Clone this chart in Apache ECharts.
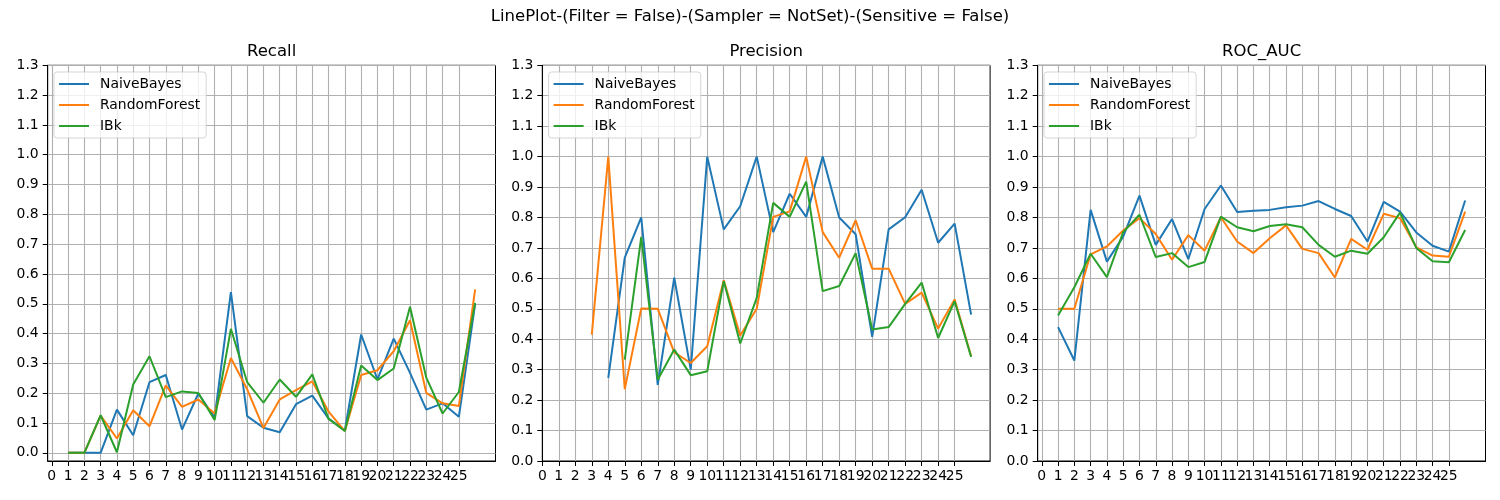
<!DOCTYPE html>
<html>
<head>
<meta charset="utf-8">
<script src="https://cdn.jsdelivr.net/npm/echarts@6/dist/echarts.min.js"></script>
<style>
  html, body { margin: 0; padding: 0; background: #fff; }
  #chart { width: 1500px; height: 500px; }
</style>
</head>
<body>
<div id="chart"></div>
<script>
// x positions of the runs and tick labels
const runs = [1, 2, 3, 4, 5, 6, 7, 8, 9, 10, 11, 12, 13, 14, 15, 16, 17, 18, 19, 20, 21, 22, 23, 24, 25, 26];
const xTicks = [0, 1, 2, 3, 4, 5, 6, 7, 8, 9, 10, 11, 12, 13, 14, 15, 16, 17, 18, 19, 20, 21, 22, 23, 24, 25];
const yTicks = [0, 0.1, 0.2, 0.3, 0.4, 0.5, 0.6, 0.7, 0.8, 0.9, 1.0, 1.1, 1.2, 1.3];

const models = ['NaiveBayes', 'RandomForest', 'IBk'];
const panels = ['Recall', 'Precision', 'ROC_AUC'];

// Recall
const recallNaiveBayes = [0, 0, 0, 0.145, 0.059, 0.237, 0.261, 0.078, 0.199, 0.118, 0.539, 0.123, 0.084, 0.069, 0.163, 0.192, 0.115, 0.075, 0.397, 0.246, 0.383, 0.268, 0.145, 0.166, 0.121, 0.5];
const recallRandomForest = [0, 0, 0.125, 0.048, 0.143, 0.089, 0.226, 0.154, 0.179, 0.132, 0.318, 0.213, 0.083, 0.179, 0.21, 0.24, 0.138, 0.073, 0.261, 0.277, 0.341, 0.445, 0.201, 0.166, 0.157, 0.548];
const recallIBk = [0, 0, 0.126, 0.002, 0.229, 0.324, 0.187, 0.206, 0.201, 0.11, 0.416, 0.237, 0.168, 0.246, 0.188, 0.263, 0.114, 0.073, 0.293, 0.244, 0.283, 0.49, 0.252, 0.132, 0.204, 0.503];

// Precision (null = undefined for that run)
const precisionNaiveBayes = [null, null, null, 0.273, 0.668, 0.8, 0.25, 0.602, 0.3, 1.0, 0.761, 0.837, 1.0, 0.752, 0.878, 0.802, 1.0, 0.8, 0.745, 0.408, 0.761, 0.801, 0.891, 0.717, 0.78, 0.481];
const precisionRandomForest = [null, null, 0.415, 1.0, 0.236, 0.501, 0.5, 0.357, 0.322, 0.377, 0.594, 0.412, 0.5, 0.802, 0.82, 1.0, 0.752, 0.668, 0.791, 0.632, 0.632, 0.516, 0.553, 0.435, 0.531, 0.344];
const precisionIBk = [null, null, null, null, 0.333, 0.736, 0.267, 0.366, 0.282, 0.295, 0.591, 0.386, 0.536, 0.848, 0.802, 0.918, 0.558, 0.575, 0.683, 0.432, 0.44, 0.516, 0.586, 0.404, 0.525, 0.342];

// ROC_AUC
const rocNaiveBayes = [0.44, 0.33, 0.825, 0.655, 0.737, 0.872, 0.71, 0.795, 0.663, 0.828, 0.905, 0.818, 0.822, 0.825, 0.834, 0.839, 0.854, 0.828, 0.805, 0.721, 0.851, 0.819, 0.751, 0.707, 0.688, 0.856];
const rocRandomForest = [0.5, 0.5, 0.679, 0.705, 0.757, 0.798, 0.746, 0.661, 0.742, 0.691, 0.801, 0.721, 0.683, 0.732, 0.774, 0.697, 0.683, 0.603, 0.73, 0.694, 0.812, 0.798, 0.702, 0.675, 0.671, 0.819];
const rocIBk = [0.478, 0.571, 0.681, 0.604, 0.752, 0.809, 0.67, 0.683, 0.637, 0.654, 0.803, 0.768, 0.755, 0.772, 0.778, 0.768, 0.71, 0.671, 0.691, 0.681, 0.735, 0.816, 0.7, 0.656, 0.653, 0.759];

const panelData = [
  [recallNaiveBayes, recallRandomForest, recallIBk],
  [precisionNaiveBayes, precisionRandomForest, precisionIBk],
  [rocNaiveBayes, rocRandomForest, rocIBk]
];

const colors = ['#1f77b4', '#ff7f0e', '#2ca02c'];
const font = 'DejaVu Sans';

// axes boxes, as in the matplotlib figure
const boxes = [
  { left: 47.7, xMin: -0.25, xMax: 27.25, yMin: -0.0274 },
  { left: 542.3, xMin: 0, xMax: 27.15, yMin: 0 },
  { left: 1037.7, xMin: -0.25, xMax: 27.25, yMin: 0 }
];
const boxTop = 65.3, boxHeight = 395.7, boxWidth = 447.8;

// two-digit labels touch each other, so even and odd labels go on two
// stacked axes -- otherwise echarts drops the overlapping end labels
const evenTicks = xTicks.filter(v => v % 2 === 0);
const oddTicks = xTicks.filter(v => v % 2 === 1);

const chart = echarts.init(document.getElementById('chart'), null, { renderer: 'canvas' });

const grid = [], xAxis = [], yAxis = [], series = [], legend = [];
const title = [{
  text: 'LinePlot-(Filter = False)-(Sampler = NotSet)-(Sensitive = False)',
  left: 'center', top: 8, padding: 0,
  textStyle: { fontFamily: font, fontSize: 16.5, fontWeight: 'normal', color: '#000' }
}];

const labelStyle = { fontFamily: font, fontSize: 13.9, color: '#000' };

boxes.forEach((b, i) => {
  grid.push({
    left: b.left, top: boxTop, width: boxWidth, height: boxHeight,
    show: true, borderColor: '#000', borderWidth: 1, backgroundColor: 'transparent'
  });
  // main x axis: ticks, grid lines, even labels
  xAxis.push({
    type: 'value', gridIndex: i, min: b.xMin, max: b.xMax, position: 'bottom',
    axisLine: { show: true, onZero: false, lineStyle: { color: '#000', width: 1 } },
    axisTick: { show: true, inside: false, length: 5, customValues: xTicks, lineStyle: { color: '#000' } },
    axisLabel: Object.assign({ customValues: evenTicks, margin: 8, hideOverlap: false }, labelStyle),
    splitLine: { show: true, lineStyle: { color: '#b0b0b0', width: 1.1 } }
  });
  // label-only x axis: odd labels
  xAxis.push({
    type: 'value', gridIndex: i, min: b.xMin, max: b.xMax, position: 'bottom', offset: 0,
    axisLine: { show: false },
    axisTick: { show: false },
    axisLabel: Object.assign({ customValues: oddTicks, margin: 8, hideOverlap: false }, labelStyle),
    splitLine: { show: false }
  });
  yAxis.push({
    type: 'value', gridIndex: i, min: b.yMin, max: 1.3,
    axisLine: { show: true, onZero: false, lineStyle: { color: '#000', width: 1 } },
    axisTick: { show: true, inside: false, length: 5, customValues: yTicks, lineStyle: { color: '#000' } },
    axisLabel: Object.assign({
      customValues: yTicks, margin: 9, hideOverlap: false,
      showMinLabel: true, showMaxLabel: true,
      formatter: v => v.toFixed(1)
    }, labelStyle),
    splitLine: { show: true, lineStyle: { color: '#b0b0b0', width: 1.1 } }
  });
  title.push({
    text: panels[i], left: b.left + boxWidth / 2, top: 43, padding: 0,
    textAlign: 'center',
    textStyle: { fontFamily: font, fontSize: 16.5, fontWeight: 'normal', color: '#000' }
  });
  legend.push({
    data: models, orient: 'vertical', left: b.left + 6.3, top: 72,
    padding: [5, 6, 5, 4], itemWidth: 30, itemHeight: 14, itemGap: 7,
    backgroundColor: 'rgba(255,255,255,0.8)', borderColor: 'rgba(204,204,204,0.8)',
    borderWidth: 1, borderRadius: 3, selectedMode: false,
    itemStyle: { opacity: 0 },
    textStyle: Object.assign({ padding: [0, 0, 0, 6] }, labelStyle)
  });
  models.forEach((m, k) => {
    series.push({
      name: m, type: 'line', xAxisIndex: i * 2, yAxisIndex: i,
      data: runs.map((x, j) => [x, panelData[i][k][j] === null ? '-' : panelData[i][k][j]]),
      symbol: 'none', connectNulls: false, clip: true,
      color: colors[k],
      lineStyle: { color: colors[k], width: 2 }
    });
  });
});

chart.setOption({
  animation: false,
  backgroundColor: '#fff',
  title, grid, xAxis, yAxis, legend, series
});
</script>
</body>
</html>
